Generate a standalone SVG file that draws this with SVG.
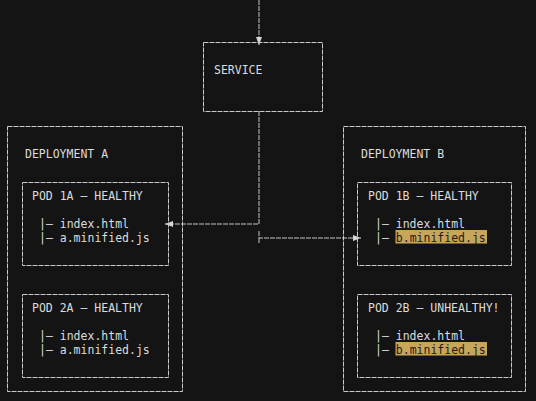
<svg xmlns="http://www.w3.org/2000/svg" width="536" height="401" viewBox="0 0 536 401">
<defs>
<style>
.box{fill:none;stroke:#cacaca;stroke-width:1;stroke-dasharray:5 1;}
.t{font-family:"DejaVu Sans Mono","Liberation Mono",monospace;font-size:11.5px;fill:#dcdcdc;}
.hl{fill:#c9a55a;}
.ht{fill:#1b1b1b;}
.edge{fill:none;stroke:#c4c4c4;stroke-width:1;stroke-dasharray:5 1;}
</style>
<marker id="ah" viewBox="0 0 8 8" refX="8" refY="4" markerWidth="8" markerHeight="8" markerUnits="userSpaceOnUse" orient="auto">
<path d="M0,1 L8,4 L0,7 Z" fill="#d4d4d4"/>
</marker>
</defs>
<rect x="0" y="0" width="536" height="401" fill="#141414"/>

<g id="connectors">
<path class="edge" d="M259,0 V45" marker-end="url(#ah)"/>
<path class="edge" d="M259,111 V224 H165" marker-end="url(#ah)"/>
<path class="edge" d="M259,231 V238 H361" marker-end="url(#ah)"/>
<path class="edge" d="M259,238 V243"/>
</g>

<g id="service">
<rect class="box" x="203.5" y="42.5" width="119" height="69"/>
<text class="t" x="214" y="73.5">SERVICE</text>
</g>

<g id="deployment-a">
<rect class="box" x="7.5" y="126.5" width="175" height="265"/>
<text class="t" x="25" y="157.5">DEPLOYMENT A</text>
</g>

<g id="pod-1a">
<rect class="box" x="22.5" y="182.5" width="146" height="83"/>
<text class="t" x="32" y="199.5">POD 1A — HEALTHY</text>
<text class="t" x="39" y="227.5">|— index.html</text>
<text class="t" x="39" y="241.5">|— a.minified.js</text>
</g>

<g id="pod-2a">
<rect class="box" x="22.5" y="294.5" width="146" height="83"/>
<text class="t" x="32" y="311.5">POD 2A — HEALTHY</text>
<text class="t" x="39" y="339.5">|— index.html</text>
<text class="t" x="39" y="353.5">|— a.minified.js</text>
</g>

<g id="deployment-b">
<rect class="box" x="343.5" y="126.5" width="182" height="265"/>
<text class="t" x="361" y="157.5">DEPLOYMENT B</text>
</g>

<g id="pod-1b">
<rect class="box" x="357.5" y="182.5" width="154" height="83"/>
<text class="t" x="368" y="199.5">POD 1B — HEALTHY</text>
<rect class="hl" x="395.5" y="230" width="91.5" height="13.5"/>
<text class="t" x="375" y="227.5">|— index.html</text>
<text class="t" x="375" y="241.5">|— <tspan class="ht">b.minified.js</tspan></text>
</g>

<g id="pod-2b">
<rect class="box" x="357.5" y="294.5" width="154" height="83"/>
<text class="t" x="368" y="311.5">POD 2B — UNHEALTHY!</text>
<rect class="hl" x="395.5" y="342" width="91.5" height="13.5"/>
<text class="t" x="375" y="339.5">|— index.html</text>
<text class="t" x="375" y="353.5">|— <tspan class="ht">b.minified.js</tspan></text>
</g>
</svg>
